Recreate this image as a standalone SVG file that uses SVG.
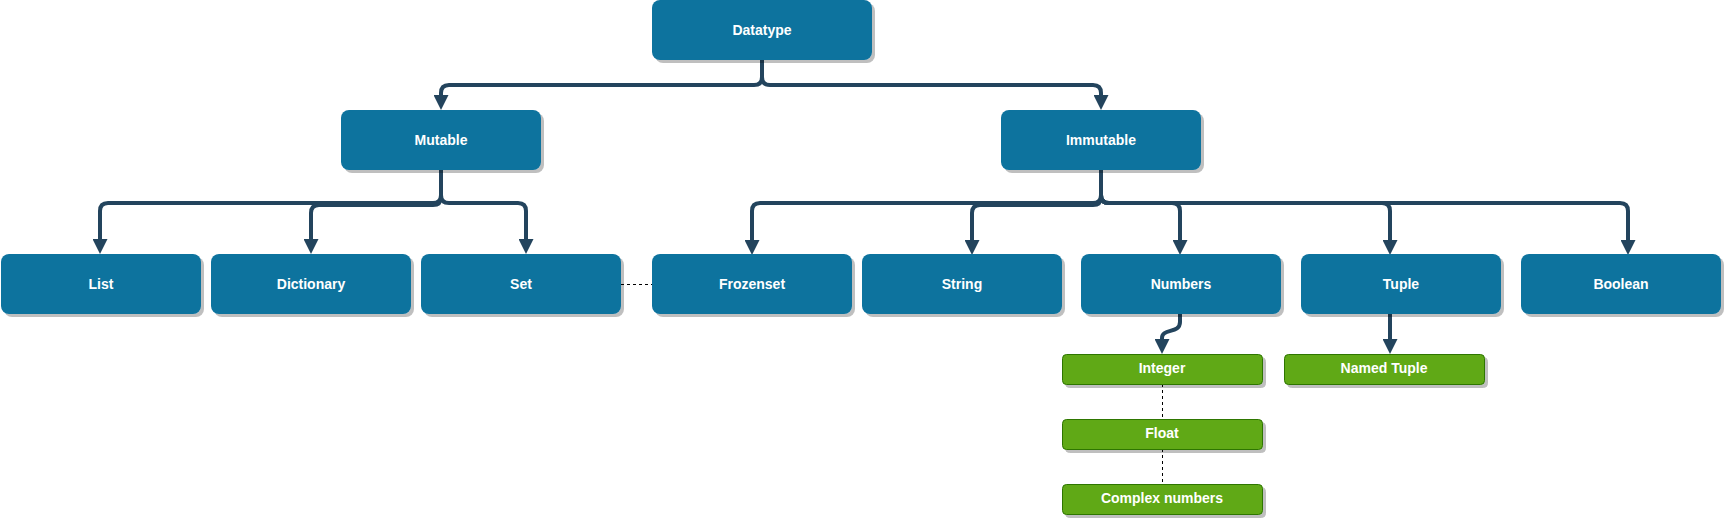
<svg xmlns="http://www.w3.org/2000/svg" width="1724" height="520" viewBox="0 0 1724 520">
<style>
.b{fill:#10739E;stroke:none;filter:url(#sh)}
.g{fill:#60A917;stroke:#2D7600;stroke-width:1;filter:url(#sh)}
.t{font-family:"Liberation Sans",Arial,sans-serif;font-weight:bold;font-size:14px;fill:#FFFFFF;text-anchor:middle}
.c{fill:none;stroke:#23445D;stroke-width:4;marker-end:url(#ah)}
.d{fill:none;stroke:#000000;stroke-width:1;stroke-dasharray:3 3}
</style>
<defs>
<filter id="sh" x="-10%" y="-10%" width="120%" height="130%">
<feDropShadow dx="3" dy="3" stdDeviation="0.6" flood-color="#000" flood-opacity="0.25"/>
</filter>
<marker id="ah" viewBox="0 0 10 10" refX="0" refY="5" markerWidth="15" markerHeight="15" markerUnits="userSpaceOnUse" orient="auto">
<path d="M0,0 L10,5 L0,10 z" fill="#23445D"/>
</marker>
</defs>
<g id="connectors">
<path class="c" d="M762,60 V77 Q762,85 754,85 H449 Q441,85 441,93 V95"/>
<path class="c" d="M762,60 V77 Q762,85 770,85 H1093 Q1101,85 1101,93 V95"/>
<path class="c" d="M441,170 V195 Q441,203 433,203 H108 Q100,203 100,211 V239"/>
<path class="c" d="M441,170 V197 Q441,205 433,205 H319 Q311,205 311,213 V239"/>
<path class="c" d="M441,170 V195 Q441,203 449,203 H518 Q526,203 526,211 V239"/>
<path class="c" d="M1101,170 V195 Q1101,203 1093,203 H760 Q752,203 752,211 V240"/>
<path class="c" d="M1101,170 V197 Q1101,205 1093,205 H980 Q972,205 972,213 V240"/>
<path class="c" d="M1101,170 V195 Q1101,203 1109,203 H1172 Q1180,203 1180,211 V240"/>
<path class="c" d="M1101,170 V195 Q1101,203 1109,203 H1382 Q1390,203 1390,211 V240"/>
<path class="c" d="M1101,170 V195 Q1101,203 1109,203 H1620 Q1628,203 1628,211 V240"/>
<path class="c" d="M1180,314 V322 C1180,334 1162,328 1162,338 V339"/>
<path class="c" d="M1390,314 V339"/>
<path class="d" d="M621,284.5 H652"/>
<path class="d" d="M1162.5,384 V419"/>
<path class="d" d="M1162.5,449 V484"/>
</g>
<g id="datatype"><rect class="b" x="652" y="0" width="220" height="60" rx="8"/><text class="t" x="762" y="35">Datatype</text></g>
<g id="mutable"><rect class="b" x="341" y="110" width="200" height="60" rx="8"/><text class="t" x="441" y="145">Mutable</text></g>
<g id="immutable"><rect class="b" x="1001" y="110" width="200" height="60" rx="8"/><text class="t" x="1101" y="145">Immutable</text></g>
<g id="list"><rect class="b" x="1" y="254" width="200" height="60" rx="8"/><text class="t" x="101" y="289">List</text></g>
<g id="dictionary"><rect class="b" x="211" y="254" width="200" height="60" rx="8"/><text class="t" x="311" y="289">Dictionary</text></g>
<g id="set"><rect class="b" x="421" y="254" width="200" height="60" rx="8"/><text class="t" x="521" y="289">Set</text></g>
<g id="frozenset"><rect class="b" x="652" y="254" width="200" height="60" rx="8"/><text class="t" x="752" y="289">Frozenset</text></g>
<g id="string"><rect class="b" x="862" y="254" width="200" height="60" rx="8"/><text class="t" x="962" y="289">String</text></g>
<g id="numbers"><rect class="b" x="1081" y="254" width="200" height="60" rx="8"/><text class="t" x="1181" y="289">Numbers</text></g>
<g id="tuple"><rect class="b" x="1301" y="254" width="200" height="60" rx="8"/><text class="t" x="1401" y="289">Tuple</text></g>
<g id="boolean"><rect class="b" x="1521" y="254" width="200" height="60" rx="8"/><text class="t" x="1621" y="289">Boolean</text></g>
<g id="integer"><rect class="g" x="1062.5" y="354.5" width="200" height="30" rx="4"/><text class="t" x="1162" y="373">Integer</text></g>
<g id="float"><rect class="g" x="1062.5" y="419.5" width="200" height="30" rx="4"/><text class="t" x="1162" y="438">Float</text></g>
<g id="complex"><rect class="g" x="1062.5" y="484.5" width="200" height="30" rx="4"/><text class="t" x="1162" y="503">Complex numbers</text></g>
<g id="namedtuple"><rect class="g" x="1284.5" y="354.5" width="200" height="30" rx="4"/><text class="t" x="1384" y="373">Named Tuple</text></g>
</svg>
